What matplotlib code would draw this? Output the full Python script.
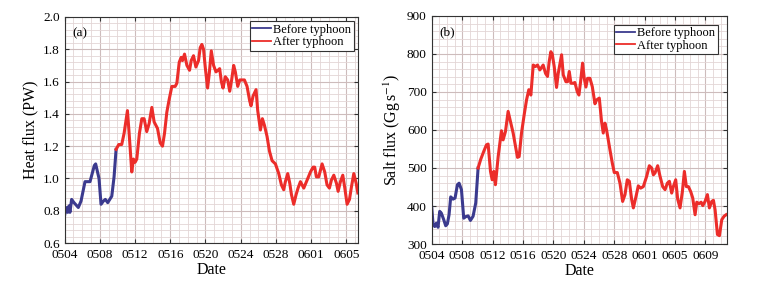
import matplotlib
matplotlib.use('Agg')
import matplotlib.pyplot as plt
from matplotlib.ticker import MultipleLocator, FormatStrFormatter

matplotlib.rcParams['font.family'] = 'serif'
matplotlib.rcParams['font.serif'] = ['Liberation Serif', 'DejaVu Serif']
matplotlib.rcParams['mathtext.fontset'] = 'stix'

# time in days since 05-04 00:00
heat_before_t = [0.0, 0.16, 0.35, 0.50, 0.61, 0.80, 1.07, 1.56, 1.87, 2.32, 2.59, 2.89,
                 3.38, 3.53, 3.91, 4.14, 4.41, 4.63, 4.90, 5.36, 5.62, 5.85]
heat_before = [0.77, 0.82, 0.79, 0.83, 0.79, 0.87, 0.85, 0.82, 0.86, 0.98, 0.98, 0.98,
               1.08, 1.09, 1.00, 0.84, 0.86, 0.87, 0.85, 0.89, 1.01, 1.18]
heat_after_t = [5.85, 6.15, 6.49, 6.76, 7.14, 7.33, 7.63, 7.82, 8.01, 8.20, 8.50, 8.77,
                9.03, 9.33, 9.60, 9.91, 10.17, 10.55, 10.86, 11.12, 11.35, 11.61, 11.88,
                12.18, 12.56, 12.75, 13.02, 13.24, 13.39, 13.62, 13.89, 14.19, 14.38, 14.64,
                14.91, 15.21, 15.40, 15.59, 15.78, 15.97, 16.24, 16.43, 16.66, 16.92, 17.19,
                17.42, 17.61, 17.80, 17.99, 18.25, 18.52, 18.75, 18.97, 19.20, 19.39, 19.66,
                19.89, 20.15, 20.42, 20.72, 21.02, 21.17, 21.40, 21.74, 21.93, 22.24, 22.46,
                22.69, 22.99, 23.26, 23.56, 23.94, 24.32, 24.62, 24.88, 25.07, 25.34, 25.57,
                25.76, 26.02, 26.29, 26.51, 26.78, 27.16, 27.54, 27.92, 28.22, 28.40, 28.59,
                28.86, 29.24, 29.54, 29.80, 30.07, 30.30, 30.57, 30.87, 31.06, 31.32, 31.59,
                31.82, 32.08, 32.35, 32.58, 32.84, 33.11, 33.30]
heat_after = [1.18, 1.21, 1.21, 1.28, 1.42, 1.28, 1.04, 1.12, 1.10, 1.12, 1.28, 1.37,
              1.37, 1.29, 1.34, 1.44, 1.35, 1.31, 1.22, 1.20, 1.28, 1.41, 1.49,
              1.57, 1.57, 1.59, 1.72, 1.75, 1.73, 1.77, 1.70, 1.67, 1.73, 1.76,
              1.69, 1.73, 1.81, 1.83, 1.80, 1.69, 1.56, 1.65, 1.79, 1.70, 1.66,
              1.67, 1.68, 1.60, 1.56, 1.63, 1.61, 1.54, 1.61, 1.70, 1.66, 1.57,
              1.61, 1.61, 1.61, 1.57, 1.48, 1.45, 1.51, 1.55, 1.42, 1.30, 1.37,
              1.33, 1.26, 1.17, 1.11, 1.09, 1.03, 0.96, 0.93, 0.98, 1.03, 0.97,
              0.90, 0.84, 0.90, 0.94, 0.98, 0.94, 0.99, 1.04, 1.07, 1.07, 1.01,
              1.01, 1.09, 1.04, 0.96, 0.94, 0.99, 1.02, 0.97, 0.92, 0.98, 1.02,
              0.94, 0.84, 0.87, 0.95, 1.03, 0.97, 0.91]

salt_before_t = [0.0, 0.18, 0.40, 0.61, 0.83, 1.05, 1.27, 1.58, 1.84, 2.06, 2.28, 2.50,
                 2.81, 3.07, 3.38, 3.60, 3.91, 4.21, 4.48, 4.79, 5.09, 5.44, 5.79, 6.10]
salt_before = [397, 351, 346, 355, 344, 386, 381, 364, 348, 353, 377, 424,
               418, 421, 456, 460, 443, 368, 372, 374, 362, 373, 408, 500]
salt_after_t = [6.10, 6.45, 6.85, 7.20, 7.42, 7.73, 7.95, 8.17, 8.38, 8.74, 9.17, 9.39,
                9.70, 10.05, 10.36, 10.71, 11.02, 11.28, 11.50, 11.81, 12.16, 12.47, 12.77,
                13.04, 13.35, 13.65, 13.92, 14.22, 14.66, 14.97, 15.23, 15.45, 15.67, 15.85,
                16.11, 16.42, 16.64, 17.08, 17.30, 17.65, 17.87, 18.09, 18.31, 18.61, 18.83,
                19.14, 19.36, 19.58, 19.84, 20.06, 20.28, 20.50, 20.81, 21.12, 21.47, 21.69,
                22.04, 22.34, 22.56, 22.78, 23.00, 23.44, 23.75, 24.01, 24.41, 24.76, 25.11,
                25.42, 25.72, 25.99, 26.30, 26.52, 26.87, 27.17, 27.48, 27.83, 28.27, 28.62,
                28.93, 29.15, 29.37, 29.72, 30.03, 30.38, 30.69, 30.99, 31.26, 31.56, 31.78,
                32.09, 32.35, 32.66, 32.97, 33.23, 33.49, 33.76, 34.06, 34.33, 34.64, 34.86,
                35.16, 35.43, 35.65, 35.95, 36.26, 36.52, 36.83, 37.05, 37.27, 37.58, 37.84,
                38.15, 38.45, 38.72]
salt_after = [500, 523, 544, 561, 563, 491, 469, 491, 456, 530, 598, 574,
              596, 649, 622, 592, 557, 528, 530, 592, 640, 679, 706,
              692, 771, 767, 771, 758, 771, 749, 741, 780, 806, 800,
              767, 712, 749, 798, 745, 727, 727, 754, 723, 723, 725,
              701, 692, 727, 776, 736, 713, 736, 736, 714, 669, 679,
              684, 622, 592, 618, 600, 548, 513, 488, 488, 460, 412,
              430, 469, 465, 417, 395, 425, 453, 447, 451, 478, 506,
              500, 482, 487, 506, 478, 451, 443, 460, 465, 434, 451,
              469, 418, 395, 438, 491, 451, 451, 438, 421, 377, 410,
              406, 410, 401, 412, 430, 395, 412, 415, 390, 325, 322,
              364, 373, 377]

heat_ticks_t = [0, 4, 8, 12, 16, 20, 24, 28, 32]
heat_tick_labels = ['0504', '0508', '0512', '0516', '0520', '0524', '0528', '0601', '0605']
salt_ticks_t = [0, 4, 8, 12, 16, 20, 24, 28, 32, 36]
salt_tick_labels = ['0504', '0508', '0512', '0516', '0520', '0524', '0528', '0601', '0605', '0609']

blue = '#3b3a8e'
red = '#ec2d2a'

fig = plt.figure(figsize=(7.57, 2.83), dpi=100)
ax1 = fig.add_axes([0.0853, 0.1413, 0.388, 0.7987])
ax2 = fig.add_axes([0.5703, 0.1378, 0.3897, 0.8057])


def style(ax, ticks, labels, xmax, ylim, ymajor):
    ax.set_xlim(0, xmax)
    ax.set_ylim(*ylim)
    ax.set_xticks(ticks)
    ax.set_xticklabels(labels)
    ax.xaxis.set_minor_locator(MultipleLocator(1))
    ax.yaxis.set_major_locator(MultipleLocator(ymajor))
    ax.yaxis.set_minor_locator(MultipleLocator(ymajor / 5))
    ax.grid(which='major', color='#cdbcbc', lw=0.8)
    ax.grid(which='minor', color='#e3d6d6', lw=0.6)
    ax.set_axisbelow(True)
    ax.tick_params(which='both', direction='in', top=True, right=True,
                   labelsize=9.5, colors='#333333', labelcolor='black')
    ax.tick_params(which='major', length=3)
    ax.tick_params(axis='x', pad=4)
    ax.tick_params(which='minor', length=0)
    for s in ax.spines.values():
        s.set_color('#333333')
        s.set_linewidth(0.8)
    ax.set_xlabel('Date', fontsize=11.5, labelpad=1)


def add_legend(ax, pad):
    leg = ax.legend(loc='upper right', fontsize=9, frameon=True, fancybox=False,
                    edgecolor='#333333', framealpha=1, handlelength=1.5,
                    handletextpad=0.2, borderpad=0.2, labelspacing=0.05,
                    borderaxespad=pad)
    leg.get_frame().set_linewidth(0.8)
    for h in leg.get_lines():
        h.set_linewidth(1.3)


ax1.plot(heat_before_t, heat_before, color=blue, lw=2.2, label='Before typhoon')
ax1.plot(heat_after_t, heat_after, color=red, lw=2.2, label='After typhoon')
style(ax1, heat_ticks_t, heat_tick_labels, 33.35, (0.6, 2.0), 0.2)
ax1.yaxis.set_major_formatter(FormatStrFormatter('%.1f'))
ax1.set_ylabel('Heat flux (PW)', fontsize=11.5, labelpad=3)
ax1.text(0.025, 0.955, '(a)', transform=ax1.transAxes, fontsize=9.5, va='top')
add_legend(ax1, 0.35)

ax2.plot(salt_before_t, salt_before, color=blue, lw=2.2, label='Before typhoon')
ax2.plot(salt_after_t, salt_after, color=red, lw=2.2, label='After typhoon')
style(ax2, salt_ticks_t, salt_tick_labels, 38.8, (300, 900), 100)
ax2.set_ylabel(r'Salt flux (Gg$\,$s$^{-1}$)', fontsize=11.5, labelpad=3)
ax2.text(0.025, 0.955, '(b)', transform=ax2.transAxes, fontsize=9.5, va='top')
add_legend(ax2, 0.7)

fig.savefig('out.png', dpi=100)
